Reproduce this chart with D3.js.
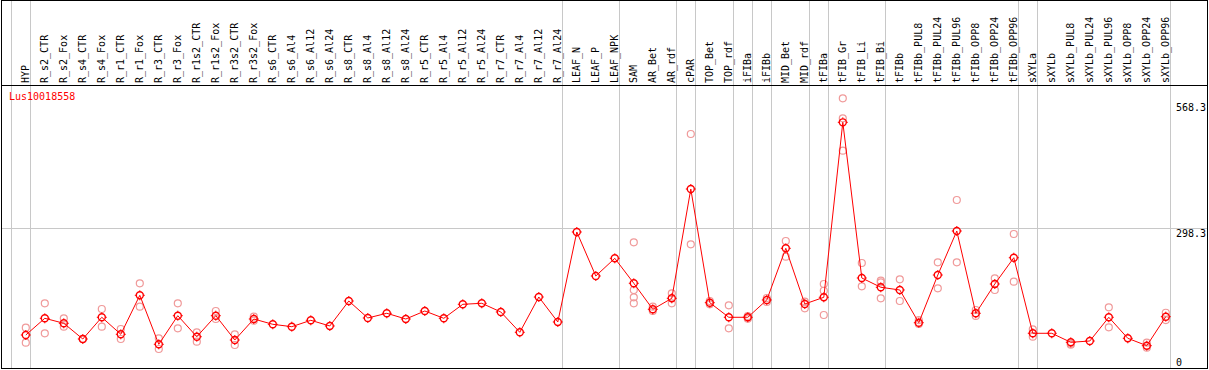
<!DOCTYPE html>
<html>
<head>
<meta charset="utf-8">
<script src="https://cdn.jsdelivr.net/npm/d3@7"></script>
<style>
  body { margin: 0; background: #fff; }
  text { font-family: "DejaVu Sans Mono", monospace; font-size: 10px; }
</style>
</head>
<body>
<div id="chart"></div>
<script>
var width = 1209,
    height = 370

var geneName = "Lus10018558"

var categories = ["HYP", "R_s2_CTR", "R_s2_Fox", "R_s4_CTR", "R_s4_Fox", "R_r1_CTR", "R_r1_Fox",
    "R_r3_CTR", "R_r3_Fox", "R_r1s2_CTR", "R_r1s2_Fox", "R_r3s2_CTR", "R_r3s2_Fox",
    "R_s6_CTR", "R_s6_Al4", "R_s6_Al12", "R_s6_Al24", "R_s8_CTR", "R_s8_Al4", "R_s8_Al12", "R_s8_Al24",
    "R_r5_CTR", "R_r5_Al4", "R_r5_Al12", "R_r5_Al24", "R_r7_CTR", "R_r7_Al4", "R_r7_Al12", "R_r7_Al24",
    "LEAF_N", "LEAF_P", "LEAF_NPK", "SAM", "AR_Bet", "AR_rdf", "cPAR", "TOP_Bet", "TOP_rdf",
    "iFIBa", "iFIBb", "MID_Bet", "MID_rdf", "tFIBa", "tFIB_Gr", "tFIB_Li", "tFIB_Bi", "tFIBb",
    "tFIBb_PUL8", "tFIBb_PUL24", "tFIBb_PUL96", "tFIBb_OPP8", "tFIBb_OPP24", "tFIBb_OPP96",
    "sXYLa", "sXYLb", "sXYLb_PUL8", "sXYLb_PUL24", "sXYLb_PUL96", "sXYLb_OPP8", "sXYLb_OPP24", "sXYLb_OPP96"]

// mean expression per sample
var means = [68.8, 104.7, 94, 60.2, 106.9, 70.3, 154.2, 48.8, 110.3, 65.1, 110.3, 58, 103.2,
    91.8, 86.7, 100.4, 88.2, 141.9, 105.4, 115.5, 103.2, 120.4, 104.7, 134.8, 137, 118.3, 74.6, 150.5, 96.8,
    290.3, 195.7, 233.7, 180, 124.1, 147.7, 382.7, 138.3, 106.9, 106.9, 144.1, 255.2, 135.5,
    149.9, 526.1, 191.4, 171.4, 165.6, 95.2, 197.8, 292.4, 115.5, 178.5, 235,
    72.5, 72.5, 53.1, 55.9, 106.9, 61.7, 45.8, 108.2]

// individual replicates
var replicates = [[84.5, 52.2], [137, 72.5], [104.7, 86.7], [60, 60], [124.7, 86.7], [81.7, 60.2],
    [180, 129.7], [61.7, 38.7], [137, 83.2], [74.6, 54.4], [120.4, 103.2], [70.3, 47.3], [108.2, 99.5],
    [], [], [], [], [], [], [], [], [], [], [], [], [], [], [], [],
    [], [], [], [268.1, 165.6, 149.9, 137], [129.7, 120.4], [158.5, 137], [501, 263.8], [141.9, 134.8],
    [132.7, 83.2], [109.7, 103.9], [148.4, 139.8], [270.9, 237.2], [140.4, 126.2],
    [178.5, 164, 111.8], [577.7, 534.7, 465.1], [223.6, 173.5], [185.6, 182.1, 147.7], [188.6, 141.9],
    [101, 92.5], [225.1, 169.2], [359.1, 225.1], [122.6, 109.7], [190.7, 165.6], [286, 183.4],
    [81.1, 65.1], [], [48, 50], [], [128.4, 85.4], [], [52.2, 41.5], [116.7, 101]]

var groupEnds = ["HYP", "R_r7_Al24", "LEAF_NPK", "AR_rdf", "cPAR", "TOP_rdf", "iFIBa", "iFIBb",
    "MID_rdf", "tFIBa", "tFIB_Bi", "tFIBb_OPP96", "sXYLa", "sXYLb_OPP96"]

var tickValues = [568.3, 298.3, 0]
var gridValues = [298.3]

var x = d3.scaleBand()
    .domain(categories)
    .range([11, 11 + 19 * categories.length])

var y = d3.scaleLinear()
    .domain([0, 568.3])
    .range([367, 102.7])

function px(d) { return x(d) + 14.8 }
function crisp(v) { return Math.round(v) + 0.5 }

var svg = d3.select('#chart').append('svg')
    .attr('width', width)
    .attr('height', height)

// horizontal grid
svg.selectAll('line.hgrid').data(gridValues)
    .enter().append('line')
        .attr('class', 'hgrid')
        .attr('x1', 1).attr('x2', 1207)
        .attr('y1', function(d) { return crisp(y(d)) })
        .attr('y2', function(d) { return crisp(y(d)) })
        .attr('stroke', '#c8c8c8')

// group separators
svg.selectAll('line.vgrid').data([categories[0]].concat(groupEnds))
    .enter().append('line')
        .attr('class', 'vgrid')
        .attr('x1', function(d, i) { return crisp(i == 0 ? x(d) - 0.5 : x(d) + 19) })
        .attr('x2', function(d, i) { return crisp(i == 0 ? x(d) - 0.5 : x(d) + 19) })
        .attr('y1', 0).attr('y2', 369)
        .attr('stroke', '#c8c8c8')

// frame
svg.append('rect')
    .attr('x', 1.5).attr('y', 0.5)
    .attr('width', 1206).attr('height', 368)
    .attr('fill', 'none')
    .attr('stroke', 'black')

svg.append('line')
    .attr('x1', 1).attr('x2', 1208)
    .attr('y1', 85.5).attr('y2', 85.5)
    .attr('stroke', 'black')

// sample labels
svg.selectAll('text.cat').data(categories)
    .enter().append('text')
        .attr('class', 'cat')
        .attr('transform', function(d) { return 'translate(' + (px(d) + 3.3) + ',83) rotate(-90)' })
        .attr('fill', 'black')
        .text(function(d) { return d })

// value labels on the right
svg.selectAll('text.tick').data(tickValues)
    .enter().append('text')
        .attr('class', 'tick')
        .attr('x', 1176)
        .attr('y', function(d) { return Math.min(y(d) + 8.5, 366) })
        .attr('fill', 'black')
        .text(function(d) { return d })

svg.append('text')
    .attr('x', 9)
    .attr('y', 100)
    .attr('fill', 'red')
    .text(geneName)

// replicate circles
var reps = []
replicates.forEach(function(r, i) {
    r.forEach(function(v) { reps.push({ cat: categories[i], value: v }) })
})

svg.selectAll('circle.rep').data(reps)
    .enter().append('circle')
        .attr('class', 'rep')
        .attr('cx', function(d) { return px(d.cat) })
        .attr('cy', function(d) { return y(d.value) })
        .attr('r', 3.5)
        .attr('fill', 'none')
        .attr('stroke', '#f09a9a')
        .attr('stroke-width', 1.2)

var line = d3.line()
    .x(function(d, i) { return px(categories[i]) })
    .y(function(d) { return y(d) })

svg.append('path')
    .attr('d', line(means))
    .attr('fill', 'none')
    .attr('stroke', 'red')
    .attr('stroke-width', 1)

var meanG = svg.selectAll('g.mean').data(means)
    .enter().append('g')
        .attr('class', 'mean')
        .attr('transform', function(d, i) { return 'translate(' + px(categories[i]) + ',' + y(d) + ')' })

meanG.append('circle')
    .attr('r', 3.5)
    .attr('fill', 'none')
    .attr('stroke', 'red')
    .attr('stroke-width', 1.4)

meanG.append('path')
    .attr('d', 'M0,-5V-3.5M0,3.5V5M-5,0H-3.5M3.5,0H5')
    .attr('stroke', 'red')
    .attr('stroke-width', 1)
</script>
</body>
</html>
